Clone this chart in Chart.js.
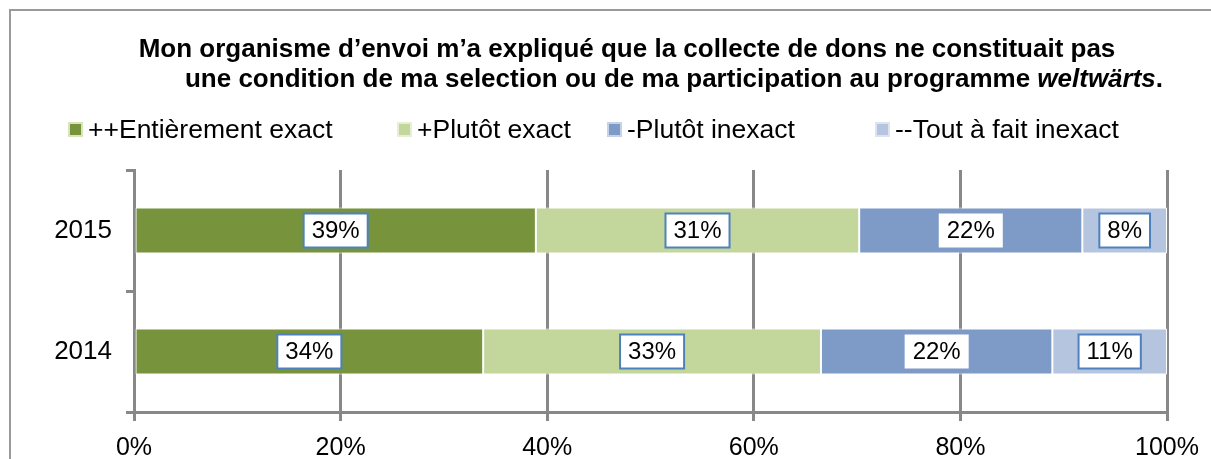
<!DOCTYPE html>
<html>
<head>
<meta charset="utf-8">
<script src="https://cdn.jsdelivr.net/npm/chart.js@4"></script>
<style>
    html, body { margin: 0; padding: 0; background: #fff; }
    canvas { display: block; }
</style>
</head>
<body>
<canvas id="chart" width="1211" height="459"></canvas>
<script>
const years = ['2015', '2014'];
const seriesNames = ['++Entièrement exact', '+Plutôt exact', '-Plutôt inexact', '--Tout à fait inexact'];
const entierementExact = [38.9, 33.8];
const plutotExact = [31.3, 32.7];
const plutotInexact = [21.6, 22.4];
const toutAFaitInexact = [8.2, 11.1];
const xTicks = [0, 20, 40, 60, 80, 100];

const colors = ['#77933c', '#c3d69b', '#7e9bc8', '#b5c4df'];
const markerBorders = ['#d7e4bd', '#e6eed5', '#c5d3e8', '#dde4f0'];
const labelBorders = ['#4f81bd', '#4f81bd', null, '#4f81bd'];
const FONT = '"Liberation Sans", Arial, sans-serif';
const gridColor = '#888888';
const titleSize = 26;

// frame, title and legend drawn by hand
const decorPlugin = {
    id: 'decor',
    beforeDraw(chart) {
        const ctx = chart.ctx;
        ctx.save();
        ctx.strokeStyle = '#9a9a9a';
        ctx.lineWidth = 2;
        ctx.strokeRect(10, 10, 1300, 600);
        ctx.restore();
    },
    afterDraw(chart) {
        const ctx = chart.ctx;
        const bold = 'bold ' + titleSize + 'px ' + FONT;
        const boldItalic = 'italic bold ' + titleSize + 'px ' + FONT;
        ctx.save();
        ctx.fillStyle = '#000';
        ctx.textBaseline = 'alphabetic';

        // title line 1
        ctx.font = bold;
        ctx.textAlign = 'center';
        ctx.fillText('Mon organisme d’envoi m’a expliqué que la collecte de dons ne constituait pas', 627, 57);

        // title line 2 with italic word
        const partA = 'une condition de ma selection ou de ma participation au programme ';
        const partB = 'weltwärts';
        const partC = '.';
        ctx.textAlign = 'left';
        ctx.font = bold;
        const wA = ctx.measureText(partA).width;
        const wC = ctx.measureText(partC).width;
        ctx.font = boldItalic;
        const wB = ctx.measureText(partB).width;
        let x = 674 - (wA + wB + wC) / 2;
        ctx.font = bold;
        ctx.fillText(partA, x, 87);
        x += wA;
        ctx.font = boldItalic;
        ctx.fillText(partB, x, 87);
        x += wB;
        ctx.font = bold;
        ctx.fillText(partC, x, 87);

        // legend
        const legendX = [68, 397, 607, 875];
        ctx.font = '26.5px ' + FONT;
        seriesNames.forEach((name, i) => {
            const mx = legendX[i];
            ctx.fillStyle = markerBorders[i];
            ctx.fillRect(mx, 122, 15, 15);
            ctx.fillStyle = colors[i];
            ctx.fillRect(mx + 2, 124, 11, 11);
            ctx.fillStyle = '#000';
            ctx.fillText(name, mx + 20, 138);
        });
        ctx.restore();
    }
};

// value boxes in the middle of each segment
const boxLabelPlugin = {
    id: 'boxLabels',
    afterDatasetsDraw(chart) {
        const ctx = chart.ctx;
        ctx.save();
        ctx.font = '24px ' + FONT;
        ctx.textAlign = 'center';
        ctx.textBaseline = 'middle';
        chart.data.datasets.forEach((ds, i) => {
            const meta = chart.getDatasetMeta(i);
            meta.data.forEach((bar, j) => {
                const text = Math.round(ds.data[j]) + '%';
                const cx = (bar.x + bar.base) / 2;
                const cy = bar.y;
                const w = ctx.measureText(text).width + 16;
                const h = 34;
                ctx.fillStyle = '#fff';
                ctx.fillRect(cx - w / 2, cy - h / 2, w, h);
                if (labelBorders[i]) {
                    ctx.strokeStyle = labelBorders[i];
                    ctx.lineWidth = 2;
                    ctx.strokeRect(cx - w / 2, cy - h / 2, w, h);
                }
                ctx.fillStyle = '#000';
                ctx.fillText(text, cx, cy + 1);
            });
        });
        ctx.restore();
    }
};

const seriesData = [entierementExact, plutotExact, plutotInexact, toutAFaitInexact];

new Chart(document.getElementById('chart'), {
    type: 'bar',
    data: {
        labels: years,
        datasets: seriesData.map((values, i) => ({
            label: seriesNames[i],
            data: values,
            backgroundColor: colors[i],
            borderColor: '#ffffff',
            borderWidth: 1,
            borderSkipped: false,
            barPercentage: 0.38,
            categoryPercentage: 1
        }))
    },
    options: {
        indexAxis: 'y',
        responsive: false,
        animation: false,
        layout: { padding: { top: 170, right: 43, left: 0, bottom: 0 } },
        plugins: {
            legend: { display: false },
            title: { display: false },
            tooltip: { enabled: false }
        },
        scales: {
            x: {
                stacked: true,
                min: 0,
                max: 100,
                afterBuildTicks(scale) {
                    scale.ticks = xTicks.map(v => ({ value: v }));
                },
                afterFit(scale) { scale.height = 47; },
                ticks: {
                    callback: v => v + '%',
                    color: '#000',
                    font: { family: FONT, size: 25 },
                    padding: 12,
                    maxRotation: 0
                },
                grid: {
                    color: gridColor,
                    lineWidth: 3,
                    tickLength: 9
                },
                border: { display: true, color: gridColor, width: 3 }
            },
            y: {
                stacked: true,
                afterFit(scale) { scale.width = 134; },
                ticks: {
                    color: '#000',
                    font: { family: FONT, size: 26 },
                    padding: 14
                },
                grid: {
                    offset: true,
                    drawOnChartArea: false,
                    color: gridColor,
                    lineWidth: 3,
                    tickLength: 8
                },
                border: { display: true, color: gridColor, width: 3 }
            }
        }
    },
    plugins: [decorPlugin, boxLabelPlugin]
});
</script>
</body>
</html>
